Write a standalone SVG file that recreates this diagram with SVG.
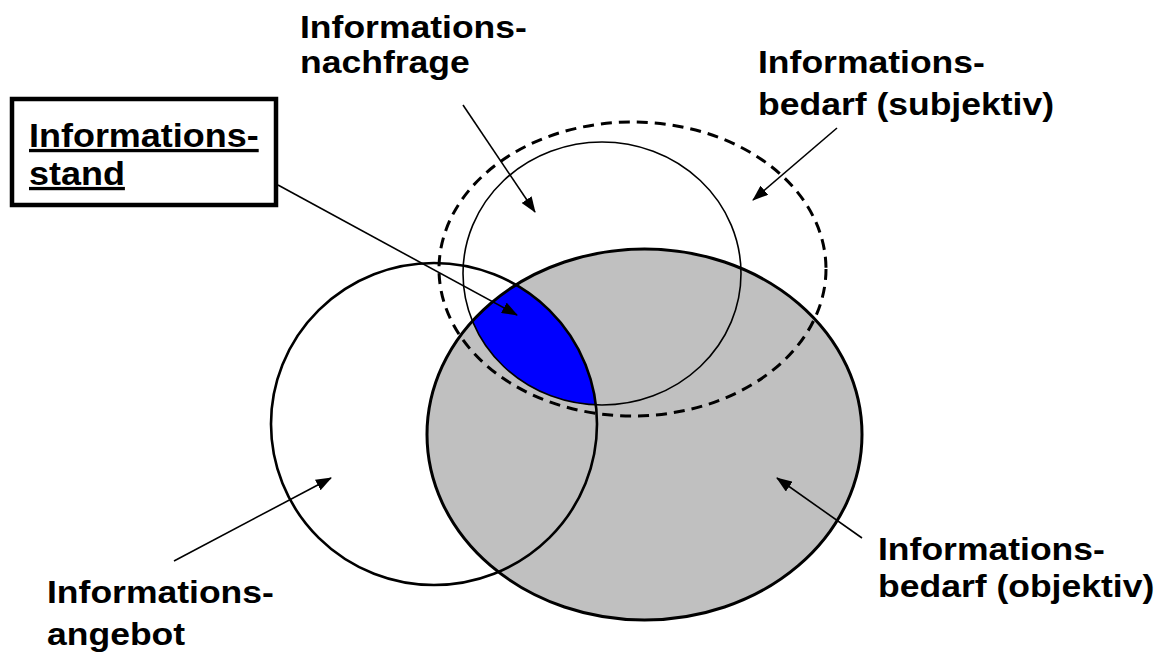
<svg xmlns="http://www.w3.org/2000/svg" width="1165" height="655" viewBox="0 0 1165 655">
  <style>
    .lbl { font-family: "Liberation Sans", Arial, sans-serif; font-weight: bold; font-size: 32px; fill: #000; }
    .box-lbl { font-size: 33px; text-decoration: underline; }
    .conn { stroke: #000; stroke-width: 1.6; fill: none; marker-end: url(#head); }
  </style>
  <defs>
    <marker id="head" markerUnits="userSpaceOnUse" markerWidth="16" markerHeight="12" refX="15" refY="6" orient="auto">
      <path d="M0,0 L16,6 L0,12 z" fill="#000"/>
    </marker>
    <clipPath id="clip-angebot">
      <ellipse cx="434" cy="424" rx="163" ry="161"/>
    </clipPath>
    <clipPath id="clip-nachfrage">
      <ellipse cx="602" cy="273.5" rx="139" ry="131.5"/>
    </clipPath>
  </defs>

  <rect width="1165" height="655" fill="#fff"/>

  <!-- objective need: grey filled ellipse -->
  <g id="bedarf-objektiv">
    <ellipse cx="644.5" cy="434.5" rx="217.5" ry="185.5" fill="#c0c0c0"/>
  </g>

  <!-- state of information: overlap of offer, demand and objective need -->
  <g id="informationsstand-flaeche">
    <g clip-path="url(#clip-angebot)">
      <g clip-path="url(#clip-nachfrage)">
        <ellipse cx="644.5" cy="434.5" rx="217.5" ry="185.5" fill="#0000ff"/>
      </g>
    </g>
  </g>

  <!-- outlines -->
  <g id="bedarf-objektiv-rand">
    <ellipse cx="644.5" cy="434.5" rx="217.5" ry="185.5" fill="none" stroke="#000" stroke-width="3"/>
  </g>
  <g id="angebot">
    <ellipse cx="434" cy="424" rx="163" ry="161" fill="none" stroke="#000" stroke-width="2.6"/>
  </g>
  <g id="nachfrage">
    <ellipse cx="602" cy="273.5" rx="139" ry="131.5" fill="none" stroke="#000" stroke-width="1.6"/>
  </g>
  <g id="bedarf-subjektiv">
    <ellipse cx="632.5" cy="269" rx="193.5" ry="147" fill="none" stroke="#000" stroke-width="3" stroke-dasharray="11 7"/>
  </g>

  <!-- boxed label -->
  <g id="informationsstand">
    <rect x="12" y="99" width="264" height="106" fill="#fff" stroke="#000" stroke-width="4.5"/>
    <text class="lbl box-lbl" transform="translate(29,147) scale(1.09,1)">Informations-</text>
    <text class="lbl box-lbl" transform="translate(29,185) scale(1.09,1)">stand</text>
  </g>

  <!-- labels -->
  <g id="label-nachfrage">
    <text class="lbl" transform="translate(300,38) scale(1.11,1)">Informations-</text>
    <text class="lbl" transform="translate(300,73) scale(1.11,1)">nachfrage</text>
  </g>
  <g id="label-subjektiv">
    <text class="lbl" transform="translate(758,73) scale(1.11,1)">Informations-</text>
    <text class="lbl" transform="translate(758,115) scale(1.11,1)">bedarf (subjektiv)</text>
  </g>
  <g id="label-angebot">
    <text class="lbl" transform="translate(47,603) scale(1.11,1)">Informations-</text>
    <text class="lbl" transform="translate(47,645) scale(1.11,1)">angebot</text>
  </g>
  <g id="label-objektiv">
    <text class="lbl" transform="translate(878,560) scale(1.11,1)">Informations-</text>
    <text class="lbl" transform="translate(878,597) scale(1.11,1)">bedarf (objektiv)</text>
  </g>

  <!-- connectors -->
  <g id="connectors">
    <line class="conn" x1="278" y1="185" x2="517" y2="315"/>
    <line class="conn" x1="463" y1="105" x2="535" y2="212"/>
    <line class="conn" x1="837" y1="128" x2="753" y2="200"/>
    <line class="conn" x1="174" y1="561" x2="331" y2="478"/>
    <line class="conn" x1="862" y1="538" x2="777" y2="478"/>
  </g>
</svg>
